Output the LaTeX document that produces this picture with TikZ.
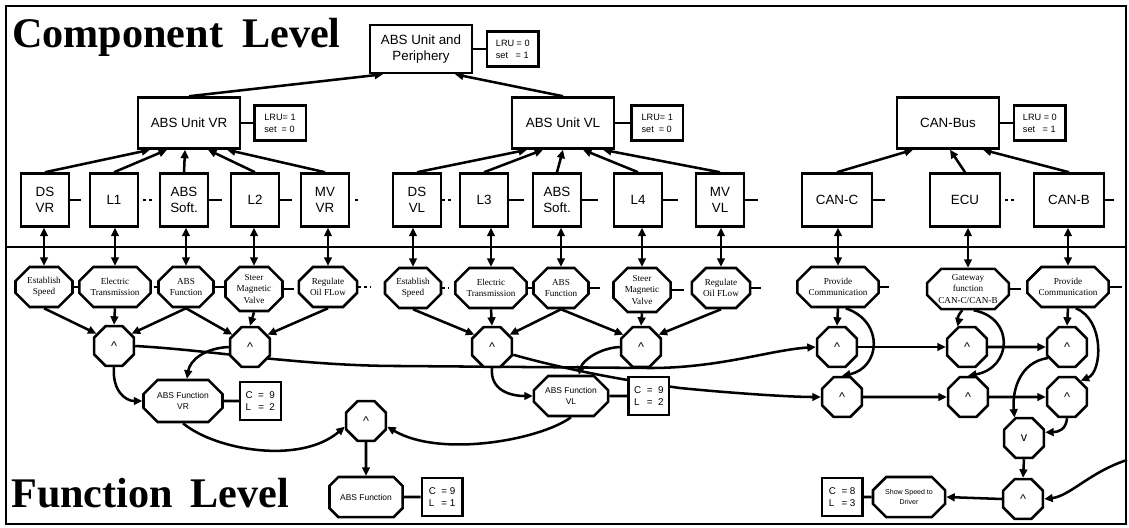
\documentclass[tikz,border=0pt]{standalone}
\usepackage{fontspec}
\setmainfont{Liberation Serif}
\setsansfont{Liberation Sans}
\usetikzlibrary{shapes,arrows.meta,positioning,calc,backgrounds}

\tikzset{
  comp/.style={rectangle, draw, line width=1.8pt, fill=white, align=center, inner sep=0pt,
    minimum width=2.55cm, minimum height=1.275cm, font=\sffamily\fontsize{9.5}{11.5}\selectfont},
  leaf/.style={comp, minimum width=1.2cm, minimum height=1.325cm},
  leafw/.style={comp, minimum width=1.75cm, minimum height=1.325cm},
  lru/.style={rectangle, draw, line width=1.6pt, fill=white, align=left, inner sep=2pt,
    minimum width=1.28cm, minimum height=0.875cm, font=\sffamily\fontsize{6.5}{8.5}\selectfont},
  clbox/.style={rectangle, draw, line width=1.6pt, fill=white, align=left, inner sep=2pt,
    minimum width=1.02cm, minimum height=0.95cm, font=\sffamily\fontsize{7}{8}\selectfont},
  func/.style={chamfered rectangle, chamfered rectangle xsep=7pt, draw, line width=1.8pt, fill=white,
    align=center, inner sep=1pt, minimum height=1cm, font=\fontsize{6.5}{8}\selectfont},
  funcs/.style={func, font=\sffamily\fontsize{6}{8}\selectfont},
  gate/.style={regular polygon, regular polygon sides=8, draw, line width=1.8pt, fill=white,
    minimum size=1.08cm, inner sep=0pt, font=\sffamily\fontsize{9}{9}\selectfont},
  link/.style={line width=1.8pt, -{Triangle[length=6pt,width=5.5pt]}},
  both/.style={line width=1.8pt, {Triangle[length=6pt,width=5.5pt]}-{Triangle[length=6pt,width=5.5pt]}},
  stub/.style={line width=1.8pt},
  dots/.style={line width=2pt, dash pattern=on 2pt off 2.2pt},
  title/.style={anchor=base west, inner sep=0pt, font=\bfseries\fontsize{30}{30}\selectfont}
}

\begin{document}
\begin{tikzpicture}[x=0.025cm, y=-0.025cm]
    \useasboundingbox (0,0) rectangle (1129,527);

    % component level
    \node (tcomp) [title] at (12,47) {Component\hspace{6pt} Level};
    \node (aup) [comp, minimum height=1.2cm] at (421,49) {ABS Unit and\\Periphery};
    \node (lrup) [lru, right=0.32cm of aup] {LRU = 0\\set\ \ \ = 1};
    \node (aur) [comp] at (189,123) {ABS Unit VR};
    \node (lrur) [lru, right=0.3cm of aur] {LRU= 1\\set\ \ = 0};
    \node (aul) [comp] at (563,123) {ABS Unit VL};
    \node (lrul) [lru, right=0.38cm of aul] {LRU= 1\\set\ \ = 0};
    \node (canb) [comp] at (948,123) {CAN-Bus};
    \node (lruc) [lru, right=0.32cm of canb] {LRU = 0\\set\ \ \ = 1};

    \node (dsvr) [leaf] at (45,200) {DS\\VR};
    \node (l1) [leaf] at (114,200) {L1};
    \node (asr) [leaf] at (184,200) {ABS\\Soft.};
    \node (l2) [leaf] at (255,200) {L2};
    \node (mvr) [leaf] at (325,200) {MV\\VR};
    \node (dsvl) [leaf] at (417,200) {DS\\VL};
    \node (l3) [leaf] at (484,200) {L3};
    \node (asl) [leaf] at (557,200) {ABS\\Soft.};
    \node (l4) [leaf] at (638,200) {L4};
    \node (mvl) [leaf] at (720,200) {MV\\VL};
    \node (canc) [leafw] at (837,200) {CAN-C};
    \node (ecu) [leafw] at (965,200) {ECU};
    \node (canbb) [leafw] at (1069,200) {CAN-B};

    % function level
    \node (tfunc) [title] at (11,507) {Function\hspace{5pt} Level};
    \node (estr) [func, minimum width=1.425cm] at (44,287) {Establish\\Speed};
    \node (elecr) [func, minimum width=1.475cm] at (115,287) {Electric\\Transmission};
    \node (absfr) [func, minimum width=1.35cm] at (186,287) {ABS\\Function};
    \node (steerr) [func, minimum width=1.25cm, minimum height=1.1cm] at (254,289) {Steer\\Magnetic\\Valve};
    \node (regr) [func, minimum width=1.25cm] at (328,287) {Regulate\\Oil FLow};
    \node (estl) [func, minimum width=1.4cm] at (413,288) {Establish\\Speed};
    \node (elecl) [func, minimum width=1.45cm] at (491,288) {Electric\\Transmission};
    \node (absfl) [func, minimum width=1.33cm] at (561,288) {ABS\\Function};
    \node (steerl) [func, minimum width=1.25cm, minimum height=1.1cm] at (642,290) {Steer\\Magnetic\\Valve};
    \node (regl) [func, minimum width=1.28cm] at (721,288) {Regulate\\Oil FLow};
    \node (pcc) [func, minimum width=1.95cm] at (838,287) {Provide\\Communication};
    \node (gw) [func, minimum width=1.95cm] at (968,289) {Gateway\\function\\CAN-C/CAN-B};
    \node (pcb) [func, minimum width=1.98cm] at (1068,287) {Provide\\Communication};

    \node (and1r) [gate] at (114,346) {\textasciicircum};
    \node (and2r) [gate] at (250,347) {\textasciicircum};
    \node (and1l) [gate] at (492,347) {\textasciicircum};
    \node (and2l) [gate] at (641,347) {\textasciicircum};
    \node (and3) [gate] at (366,421) {\textasciicircum};
    \node (c1) [gate] at (837,347) {\textasciicircum};
    \node (c2) [gate] at (842,397) {\textasciicircum};
    \node (g1) [gate] at (967,347) {\textasciicircum};
    \node (g2) [gate] at (968,397) {\textasciicircum};
    \node (p1) [gate] at (1067,347) {\textasciicircum};
    \node (p2) [gate] at (1067,397) {\textasciicircum};
    \node (orr) [gate] at (1024,438) {v};
    \node (fin) [gate] at (1023,499) {\textasciicircum};

    \node (afvr) [funcs, minimum width=1.975cm, minimum height=1.05cm] at (183,401) {ABS Function\\VR};
    \node (clvr) [clbox, right=0.375cm of afvr] {C \ = \ 9\\L \ \,= \ 2};
    \node (afvl) [funcs, minimum width=1.825cm] at (571,396) {ABS Function\\VL};
    \node (clvl) [clbox, right=0.45cm of afvl] {C \ = \ 9\\L \ \,= \ 2};
    \node (aff) [funcs, minimum width=1.825cm] at (366,497) {ABS Function};
    \node (clf) [clbox, right=0.42cm of aff] {C \ = 9\\L \ \,= 1};
    \node (ssd) [funcs, minimum width=1.8cm, font=\sffamily\fontsize{5}{7}\selectfont] at (909,497) {Show Speed to\\Driver};
    \node (cls) [clbox, left=0.2cm of ssd] {C \ = 8\\L \ \,= 3};

    \coordinate (inr) at (1127,460);

    \begin{scope}[on background layer]
    % frame and level divider
    \draw[line width=1.6pt] (6,6) rectangle (1126,524);
    \draw[line width=1.8pt] (6,247) -- (1126,247);

    % component tree
    \draw[link] (aur.north) -- ($(aup.south)+(-38,0)$);
    \draw[link] (aul.north) -- ($(aup.south)+(34,0)$);
    \draw[link] (dsvr.north) -- ($(aur.south)+(-39,0)$);
    \draw[link] (l1.north) -- ($(aur.south)+(-22,0)$);
    \draw[link] (asr.north) -- ($(aur.south)+(-4,0)$);
    \draw[link] (l2.north) -- ($(aur.south)+(19,0)$);
    \draw[link] (mvr.north) -- ($(aur.south)+(38,0)$);
    \draw[link] (dsvl.north) -- ($(aul.south)+(-36,0)$);
    \draw[link] (l3.north) -- ($(aul.south)+(-20,0)$);
    \draw[link] (asl.north) -- ($(aul.south)+(0,0)$);
    \draw[link] (l4.north) -- ($(aul.south)+(20,0)$);
    \draw[link] (mvl.north) -- ($(aul.south)+(40,0)$);
    \draw[link] (canc.north) -- ($(canb.south)+(-35,0)$);
    \draw[link] (ecu.north) -- ($(canb.south)+(2,0)$);
    \draw[link] (canbb.north) -- ($(canb.south)+(35,0)$);
    \draw[stub] (aup) -- (lrup);
    \draw[stub] (aur) -- (lrur);
    \draw[stub] (aul) -- (lrul);
    \draw[stub] (canb) -- (lruc);

    \draw[stub] (dsvr.east) -- ++(11,0);
    \draw[dots] ($(l1.east)+(4,0)$) -- ++(9,0);
    \draw[stub] (asr.east) -- ++(13,0);
    \draw[stub] (l2.east) -- ++(12,0);
    \draw[dots] ($(mvr.east)+(5,0)$) -- ++(3,0);
    \draw[dots] ($(dsvl.east)+(0,0)$) -- ++(10,0);
    \draw[stub] (l3.east) -- ++(15,0);
    \draw[stub] (asl.east) -- ++(16,0);
    \draw[stub] (l4.east) -- ++(15,0);
    \draw[stub] (mvl.east) -- ++(13,0);
    \draw[stub] (canc.east) -- ++(12,0);
    \draw[dots] ($(ecu.east)+(4,0)$) -- ++(9,0);
    \draw[stub] (canbb.east) -- ++(9,0);

    % component <-> function
    \draw[both] (estr.north |- dsvr.south) -- (estr.north);
    \draw[both] (elecr.north |- l1.south) -- (elecr.north);
    \draw[both] (absfr.north |- asr.south) -- (absfr.north);
    \draw[both] (steerr.north |- l2.south) -- (steerr.north);
    \draw[both] (regr.north |- mvr.south) -- (regr.north);
    \draw[both] (estl.north |- dsvl.south) -- (estl.north);
    \draw[both] (elecl.north |- l3.south) -- (elecl.north);
    \draw[both] (absfl.north |- asl.south) -- (absfl.north);
    \draw[both] (steerl.north |- l4.south) -- (steerl.north);
    \draw[both] (regl.north |- mvl.south) -- (regl.north);
    \draw[both] (pcc.north |- canc.south) -- (pcc.north);
    \draw[both] (gw.north |- ecu.south) -- (gw.north);
    \draw[both] (pcb.north |- canbb.south) -- (pcb.north);

    \draw[stub] (estr.east) -- ++(6,0);
    \draw[stub] ($(elecr.east)+(2,0)$) -- ++(9,0);
    \draw[stub] (absfr.east) -- ++(12,0);
    \draw[stub] (steerr.east) -- ++(10,0);
    \draw[dots] (regr.east) -- ++(13,0);
    \draw[dots] (estl.east) -- ++(6,0);
    \draw[stub] (elecl.east) -- ++(6,0);
    \draw[stub] (absfl.east) -- ++(10,0);
    \draw[stub] (steerl.east) -- ++(12,0);
    \draw[stub] (regl.east) -- ++(10,0);
    \draw[stub] (pcc.east) -- ++(9,0);
    \draw[stub] (gw.east) -- ++(11,0);
    \draw[stub] (pcb.east) -- ++(12,0);

    % function tree, left half
    \draw[link] (estr.south) -- (and1r.145);
    \draw[link] (elecr.south) -- (and1r.north);
    \draw[link] (absfr.south) -- (and1r.35);
    \draw[link] (absfr.south) -- (and2r.145);
    \draw[link] (steerr.south) -- (and2r.north);
    \draw[link] (regr.south) -- (and2r.35);
    \draw[link] (estl.south) -- (and1l.145);
    \draw[link] (elecl.south) -- (and1l.north);
    \draw[link] (absfl.south) -- (and1l.35);
    \draw[link] (absfl.south) -- (and2l.145);
    \draw[link] (steerl.south) -- (and2l.north);
    \draw[link] (regl.south) -- (and2l.35);

    \draw[link] (and1r.south) .. controls (112,390) and (125,401) .. (afvr.west);
    \draw[link] (and2r.west) .. controls (205,348) and (190,360) .. (afvr.80);
    \draw[link] (and1l.south) .. controls (490,390) and (510,396) .. (afvl.west);
    \draw[link] (and2l.west) .. controls (600,348) and (583,360) .. (afvl.70);
    \draw[stub] (afvr) -- (clvr);
    \draw[stub] (afvl) -- (clvl);
    \draw[stub] (aff) -- (clf);
    \draw[link] (afvr.south) .. controls (215,450) and (300,465) .. (and3.195);
    \draw[link] (afvl.south) .. controls (540,440) and (440,458) .. (and3.-15);
    \draw[link] (and3.south) -- (aff.north);

    \draw[link] (and1r.east) .. controls (210,350) and (300,366) .. (400,366)
        -- (650,368) .. controls (720,368) and (770,350) .. (c1.west);
    \draw[link] (and1l.-20) .. controls (560,368) and (620,380) .. (680,388)
        .. controls (730,393) and (790,397) .. (c2.west);

    % function tree, CAN part
    \draw[link] (pcc.south) -- (c1.north);
    \draw[link] (pcc.-70) .. controls (885,322) and (880,368) .. (c2.north);
    \draw[link] (gw.255) .. controls (955,318) and (958,324) .. (g1.115);
    \draw[link] (gw.-75) .. controls (1015,318) and (1012,368) .. (g2.north);
    \draw[link] (pcb.south) -- (p1.north);
    \draw[link] (pcb.-70) .. controls (1105,320) and (1102,372) .. (p2.50);
    \draw[link] (c1) -- (g1);
    \draw[link] (g1) -- (p1);
    \draw[link] (c2) -- (g2);
    \draw[link] (g2) -- (p2);
    \draw[link] (p1.210) .. controls (1020,362) and (1012,390) .. (orr.115);
    \draw[link] (p2.south) .. controls (1066,430) and (1058,432) .. (orr.15);
    \draw[link] (orr.south) -- (fin.north);
    \draw[link] (inr) .. controls (1090,472) and (1070,496) .. (fin.east);
    \draw[link] (fin.west) -- (ssd.east);
    \draw[stub] (cls) -- (ssd);
    \end{scope}
\end{tikzpicture}
\end{document}
